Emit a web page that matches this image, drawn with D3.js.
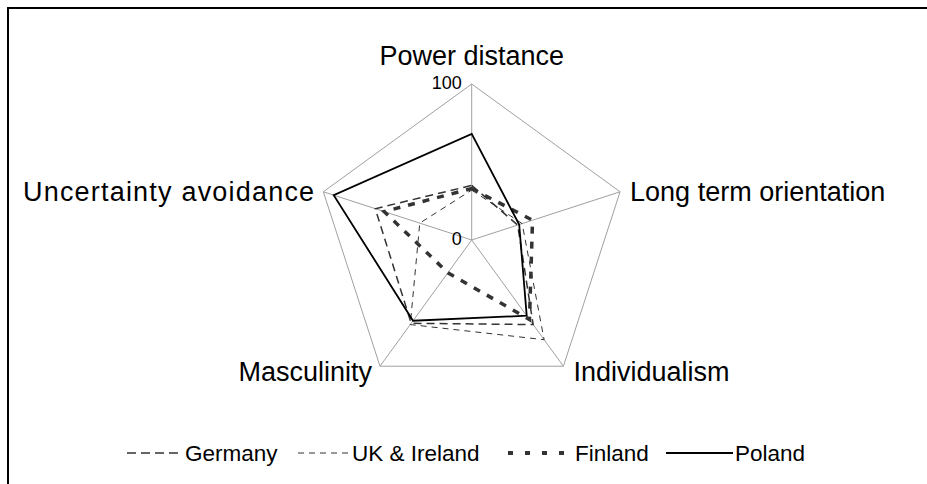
<!DOCTYPE html>
<html><head><meta charset="utf-8">
<script src="https://cdn.jsdelivr.net/npm/d3@7"></script>
<style>body{margin:0;background:#fff}svg{display:block}text{font-family:"Liberation Sans",Arial,sans-serif;fill:#000}</style>
</head><body><svg id="c" width="927" height="484"></svg>
<script>
const dimensions = ["Power distance","Long term orientation","Individualism","Masculinity","Uncertainty avoidance"];
const seriesNames = ["Germany","UK & Ireland","Finland","Poland"];
const germany = [35,31,67,66,65];
const ukIreland = [32,34,79,67,35];
const finland = [33,41,63,26,59];
const poland = [68,32,60,64,93];
const tickLabels = [0,100];

const values = [germany, ukIreland, finland, poland];
const styles = [
  {stroke:"#333", width:1.5, dash:"8,5", ldash:"9,5"},
  {stroke:"#333", width:1, dash:"6,5", ldash:"6,5"},
  {stroke:"#333", width:3.5, dash:"7,8", ldash:"5,12"},
  {stroke:"#000", width:1.8, dash:null, ldash:null}
];

const svg = d3.select("#c");
svg.append("line").attr("x1",8).attr("y1",7).attr("x2",8).attr("y2",484).attr("stroke","#000").attr("stroke-width",2);
svg.append("line").attr("x1",7).attr("y1",8).attr("x2",927).attr("y2",8).attr("stroke","#000").attr("stroke-width",2);

const cx = 471.7, cy = 240, R = 156;
const r = d3.scaleLinear().domain([0,100]).range([0,R]);
const ang = d3.scalePoint().domain(dimensions).range([0, 2*Math.PI*(dimensions.length-1)/dimensions.length]);
const pt = (d,v) => [cx + r(v)*Math.sin(ang(d)), cy - r(v)*Math.cos(ang(d))];

const g = svg.append("g");
g.append("path").attr("d", d3.line()(dimensions.map(d=>pt(d,100))) + "Z")
  .attr("fill","none").attr("stroke","#a0a0a0").attr("stroke-width",1);
dimensions.forEach(d=>{
  const [x,y]=pt(d,100);
  g.append("line").attr("x1",cx).attr("y1",cy).attr("x2",x).attr("y2",y).attr("stroke","#a0a0a0").attr("stroke-width",1);
});

values.forEach((vals,i)=>{
  const s=styles[i];
  g.append("path").attr("d", d3.line()(dimensions.map((d,k)=>pt(d,vals[k]))) + "Z")
   .attr("fill","none").attr("stroke",s.stroke).attr("stroke-width",s.width)
   .attr("stroke-dasharray",s.dash).attr("stroke-linejoin","miter");
});

tickLabels.forEach(t=>{
  g.append("text").attr("x",cx-10).attr("y",cy - r(t) + 5).attr("text-anchor","end")
   .attr("font-size",18).text(t);
});

const lab = [
  {dx:0, dy:-19, anchor:"middle", ls:0},
  {dx:10, dy:9, anchor:"start", ls:0},
  {dx:10, dy:15, anchor:"start", ls:0},
  {dx:-8, dy:15, anchor:"end", ls:0},
  {dx:-8, dy:9, anchor:"end", ls:1.2}
];
dimensions.forEach((d,k)=>{
  const [x,y]=pt(d,100);
  g.append("text").attr("x",x+lab[k].dx).attr("y",y+lab[k].dy).attr("text-anchor",lab[k].anchor)
   .attr("font-size",27).attr("letter-spacing",lab[k].ls).text(d);
});

const legendLine = [[127,182],[298,350],[508,572],[666,733]];
const legendText = [185,352,575,735];
const lg = svg.append("g");
seriesNames.forEach((n,i)=>{
  const s=styles[i];
  lg.append("line").attr("x1",legendLine[i][0]).attr("x2",legendLine[i][1]).attr("y1",453).attr("y2",453)
    .attr("stroke",s.stroke).attr("stroke-width",i===2?4:s.width).attr("stroke-dasharray",s.ldash);
  lg.append("text").attr("x",legendText[i]).attr("y",460.5).attr("font-size",22.5).text(n);
});
</script></body></html>
